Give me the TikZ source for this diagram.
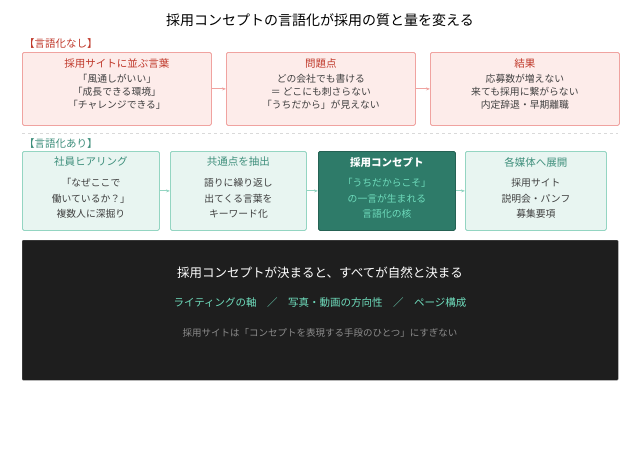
\documentclass[tikz,border=0pt]{standalone}
\usepackage{fontspec}
\setmainfont{Noto Sans CJK JP}
\usetikzlibrary{arrows.meta}
\definecolor{rfill}{HTML}{FDECEA}\definecolor{rbord}{HTML}{F0A3A0}\definecolor{rtext}{HTML}{C0392B}
\definecolor{tfill}{HTML}{E8F5F1}\definecolor{tbord}{HTML}{94D5C2}\definecolor{ttext}{HTML}{3F8F7C}
\definecolor{tdark}{HTML}{2E7B69}\definecolor{blk}{HTML}{1E1E1E}\definecolor{mint}{HTML}{6FDDBD}
\begin{document}
\begin{tikzpicture}[x=1pt,y=-1pt,
 rbox/.style={draw=rbord,fill=rfill,line width=0.8pt,rounded corners=1.5pt,minimum width=189pt,minimum height=73pt,anchor=north west},
 tbox/.style={draw=tbord,fill=tfill,line width=0.8pt,rounded corners=1.5pt,minimum width=137pt,minimum height=79pt,anchor=north west},
 ttl/.style={font=\fontsize{10.5}{12}\selectfont},
 body/.style={font=\fontsize{9.8}{13}\selectfont,align=center,text=black!75},
 rarr/.style={draw=rbord,line width=1pt,-{Stealth[length=4pt]}},
 tarr/.style={draw=tbord,line width=1pt,-{Stealth[length=4pt]}}]
\useasboundingbox (0,0) rectangle (640,451);
\fill[white] (0,0) rectangle (640,451);
\node[font=\fontsize{14}{16}\selectfont] (title) at (320,20) {採用コンセプトの言語化が採用の質と量を変える};
\node[anchor=west,text=rtext,font=\fontsize{10.5}{12}\selectfont,inner sep=0] (l1) at (24,44) {【言語化なし】};
\node[rbox] (a1) at (22,52) {}; \node[rbox] (a2) at (226,52) {}; \node[rbox] (a3) at (430,52) {};
\foreach \n/\t/\b in {a1/採用サイトに並ぶ言葉/{「風通しがいい」\\「成長できる環境」\\「チャレンジできる」},a2/問題点/{どの会社でも書ける\\＝ どこにも刺さらない\\「うちだから」が見えない},a3/結果/{応募数が増えない\\来ても採用に繋がらない\\内定辞退・早期離職}}{
 \node[ttl,text=rtext] at ([yshift=-12]\n.north) {\t};
 \node[body,anchor=north] at ([yshift=-19]\n.north) {\b};}
\draw[rarr] (a1) -- (a2); \draw[rarr] (a2) -- (a3);
\draw[black!15,dashed,line width=0.6pt] (22,133) -- (618,133);
\node[anchor=west,text=ttext,font=\fontsize{10.5}{12}\selectfont,inner sep=0] (l2) at (24,144) {【言語化あり】};
\node[tbox] (b1) at (22,151) {}; \node[tbox,minimum width=136pt] (b2) at (170,151) {};
\node[tbox,fill=tdark,draw=tdark!80!black] (b3) at (318,151) {}; \node[tbox,minimum width=141pt] (b4) at (465,151) {};
\foreach \n/\t/\b/\c/\d in {b1/社員ヒアリング/{「なぜここで\\働いているか？」\\複数人に深掘り}/ttext/black!75,b2/共通点を抽出/{語りに繰り返し\\出てくる言葉を\\キーワード化}/ttext/black!75,b3/{\bfseries 採用コンセプト}/{「うちだからこそ」\\の一言が生まれる\\言語化の核}/white/mint,b4/各媒体へ展開/{採用サイト\\説明会・パンフ\\募集要項}/ttext/black!75}{
 \node[ttl,text=\c] at ([yshift=-11]\n.north) {\t};
 \node[body,text=\d,anchor=north,font=\fontsize{9.8}{15.5}\selectfont] at ([yshift=-24]\n.north) {\b};}
\draw[tarr] (b1) -- (b2); \draw[tarr] (b2) -- (b3); \draw[tarr] (b3) -- (b4);
\node[draw=black!60,fill=blk,minimum width=596pt,minimum height=140pt,anchor=north west,rounded corners=1pt] (c) at (22,240) {};
\node[text=white,font=\fontsize{12.5}{14}\selectfont] (c1) at (320,273) {採用コンセプトが決まると、すべてが自然と決まる};
\node[text=mint,font=\fontsize{10.5}{12}\selectfont] (c2) at (320,303) {ライティングの軸　／　写真・動画の方向性　／　ページ構成};
\node[text=black!45,font=\fontsize{9.5}{11}\selectfont] (c3) at (320,333) {採用サイトは「コンセプトを表現する手段のひとつ」にすぎない};
\end{tikzpicture}
\end{document}
